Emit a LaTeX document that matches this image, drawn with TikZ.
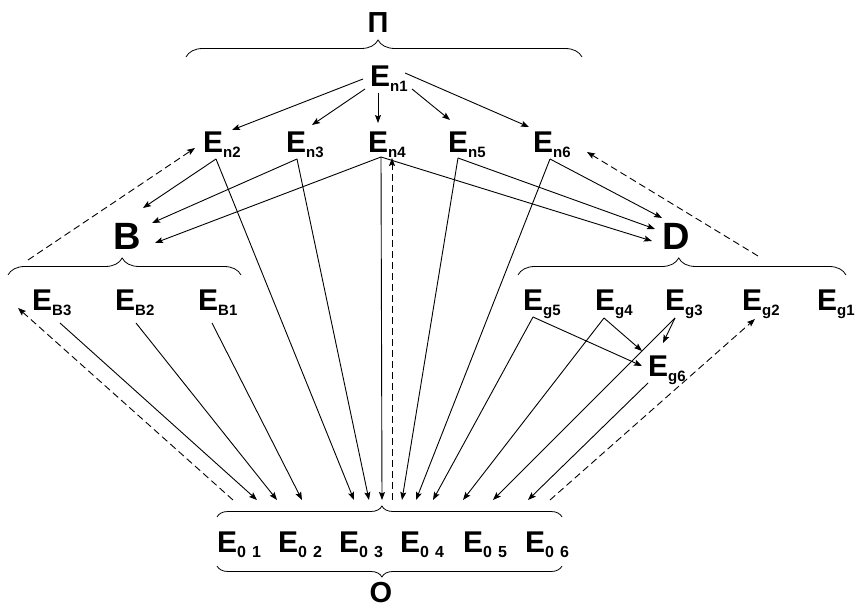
\documentclass[tikz,border=0pt]{standalone}
\usepackage{fontspec}
\setmainfont{Liberation Sans}
\usetikzlibrary{arrows.meta,decorations.pathreplacing}
\newcommand\Esub[1]{E\raisebox{-5pt}{\fontsize{15}{15}\selectfont #1}}
\newcommand\Ezero[1]{E\raisebox{-5pt}{\fontsize{16}{16}\selectfont 0\hspace{6pt}#1}}
\begin{document}
\begin{tikzpicture}[x=1pt,y=-1pt,
  lbl/.style={inner sep=0pt, anchor=base west, font=\fontsize{30}{30}\selectfont\bfseries},
  big/.style={inner sep=0pt, anchor=base, font=\fontsize{38}{38}\selectfont\bfseries},
  ttl/.style={inner sep=0pt, anchor=base, font=\fontsize{29}{29}\selectfont\bfseries},
  arr/.style={line width=0.9pt, -{Stealth[length=8pt,width=6pt,inset=1.5pt]}},
  darr/.style={arr, dash pattern=on 7pt off 4pt},
  brc/.style={line width=0.8pt, decorate}
]
\useasboundingbox (0,0) rectangle (855,609);

% group titles
\node[ttl] (P) at (378,33) {П};
\node[big] (B) at (127,250) {B};
\node[big] (D) at (676,250) {D};
\node[ttl] (O) at (381,603) {O};

% braces
\draw[brc, decoration={brace,amplitude=17pt,aspect=0.485}] (186,57) -- (582,57);
\draw[brc, decoration={brace,amplitude=17pt,aspect=0.49}] (8,275) -- (241,275);
\draw[brc, decoration={brace,amplitude=17pt,aspect=0.49}] (518,275) -- (846,275);
\draw[brc, decoration={brace,amplitude=11pt,aspect=0.478}] (217,517) -- (562,517);
\draw[brc, decoration={brace,amplitude=11pt,aspect=0.478,mirror}] (217,566) -- (562,566);
\coordinate (bB) at (28,260);
\coordinate (bD) at (758,256);

% nodes
\node[lbl] (n1) at (370,87) {\Esub{n1}};
\node[lbl] (n2) at (203,153) {\Esub{n2}};
\node[lbl] (n3) at (286,153) {\Esub{n3}};
\node[lbl] (n4) at (368,153) {\Esub{n4}};
\node[lbl] (n5) at (448,153) {\Esub{n5}};
\node[lbl] (n6) at (533,153) {\Esub{n6}};

\node[lbl] (EB3) at (32,311) {\Esub{B3}};
\node[lbl] (EB2) at (115,311) {\Esub{B2}};
\node[lbl] (EB1) at (198,311) {\Esub{B1}};

\node[lbl] (Eg5) at (523,311) {\Esub{g5}};
\node[lbl] (Eg4) at (595,311) {\Esub{g4}};
\node[lbl] (Eg3) at (665,311) {\Esub{g3}};
\node[lbl] (Eg2) at (742,311) {\Esub{g2}};
\node[lbl] (Eg1) at (817,311) {\Esub{g1}};
\node[lbl] (Eg6) at (648,377) {\Esub{g6}};

\node[lbl] (E01) at (217,553) {\Ezero{1}};
\node[lbl] (E02) at (278,553) {\Ezero{2}};
\node[lbl] (E03) at (339,553) {\Ezero{3}};
\node[lbl] (E04) at (400,553) {\Ezero{4}};
\node[lbl] (E05) at (463,553) {\Ezero{5}};
\node[lbl] (E06) at (525,553) {\Ezero{6}};

% from En1
\draw[arr] ([shift={(-7,-8)}]n1.base west) -- ([shift={(29,-23)}]n2.base west);
\draw[arr] ([shift={(-5,2)}]n1.base west) -- ([shift={(26,-28)}]n3.base west);
\draw[arr] ([shift={(8,6)}]n1.base west) -- ([shift={(10,-30)}]n4.base west);
\draw[arr] ([shift={(42,2)}]n1.base west) -- ([shift={(2,-33)}]n5.base west);
\draw[arr] ([shift={(35,-14)}]n1.base west) -- ([shift={(-4,-26)}]n6.base west);

% En2..En6
\draw[arr] ([shift={(13,6)}]n2.base west) -- ([shift={(16,-42)}]B.base);
\draw[arr] ([shift={(13,6)}]n2.base west) -- ([shift={(15,-53)}]E03.base west);
\draw[arr] ([shift={(11,6)}]n3.base west) -- ([shift={(25,-27)}]B.base);
\draw[arr] ([shift={(11,6)}]n3.base west) -- ([shift={(30,-53)}]E03.base west);
\draw[arr] ([shift={(13,4)}]n4.base west) -- ([shift={(28,-7)}]B.base);
\draw[arr] ([shift={(13,4)}]n4.base west) -- ([shift={(43,-53)}]E03.base west);
\draw[arr] ([shift={(13,4)}]n4.base west) -- ([shift={(-24,-9)}]D.base);
\draw[arr] ([shift={(10,5)}]n5.base west) -- ([shift={(-21,-21)}]D.base);
\draw[arr] ([shift={(10,5)}]n5.base west) -- ([shift={(2,-53)}]E04.base west);
\draw[arr] ([shift={(17,6)}]n6.base west) -- ([shift={(-14,-32)}]D.base);
\draw[arr] ([shift={(17,6)}]n6.base west) -- ([shift={(16,-53)}]E04.base west);

% B group
\draw[arr] ([shift={(28,12)}]EB3.base west) -- ([shift={(40,-53)}]E01.base west);
\draw[arr] ([shift={(21,12)}]EB2.base west) -- ([shift={(-1,-53)}]E02.base west);
\draw[arr] ([shift={(14,12)}]EB1.base west) -- ([shift={(24,-53)}]E02.base west);

% g group
\draw[arr] ([shift={(10,6)}]Eg5.base west) -- ([shift={(-6,-11)}]Eg6.base west);
\draw[arr] ([shift={(10,6)}]Eg5.base west) -- ([shift={(33,-53)}]E04.base west);
\draw[arr] ([shift={(9,7)}]Eg4.base west) -- ([shift={(-6,-26)}]Eg6.base west);
\draw[arr] ([shift={(9,7)}]Eg4.base west) -- ([shift={(0,-53)}]E05.base west);
\draw[arr] ([shift={(10,7)}]Eg3.base west) -- ([shift={(15,-34)}]Eg6.base west);
\draw[arr] ([shift={(10,7)}]Eg3.base west) -- ([shift={(30,-53)}]E05.base west);
\draw[arr] ([shift={(0,6)}]Eg6.base west) -- ([shift={(3,-53)}]E06.base west);

% dashed feedback
\draw[darr] ([shift={(-8,-53)}]E04.base west) -- ([shift={(24,5)}]n4.base west);
\draw[darr] (bB) -- ([shift={(-8,-5)}]n2.base west);
\draw[darr] (bD) -- ([shift={(54,-1)}]n6.base west);
\draw[darr] ([shift={(16,-53)}]E01.base west) -- ([shift={(-14,-3)}]EB3.base west);
\draw[darr] ([shift={(25,-53)}]E06.base west) -- ([shift={(13,8)}]Eg2.base west);
\end{tikzpicture}
\end{document}
